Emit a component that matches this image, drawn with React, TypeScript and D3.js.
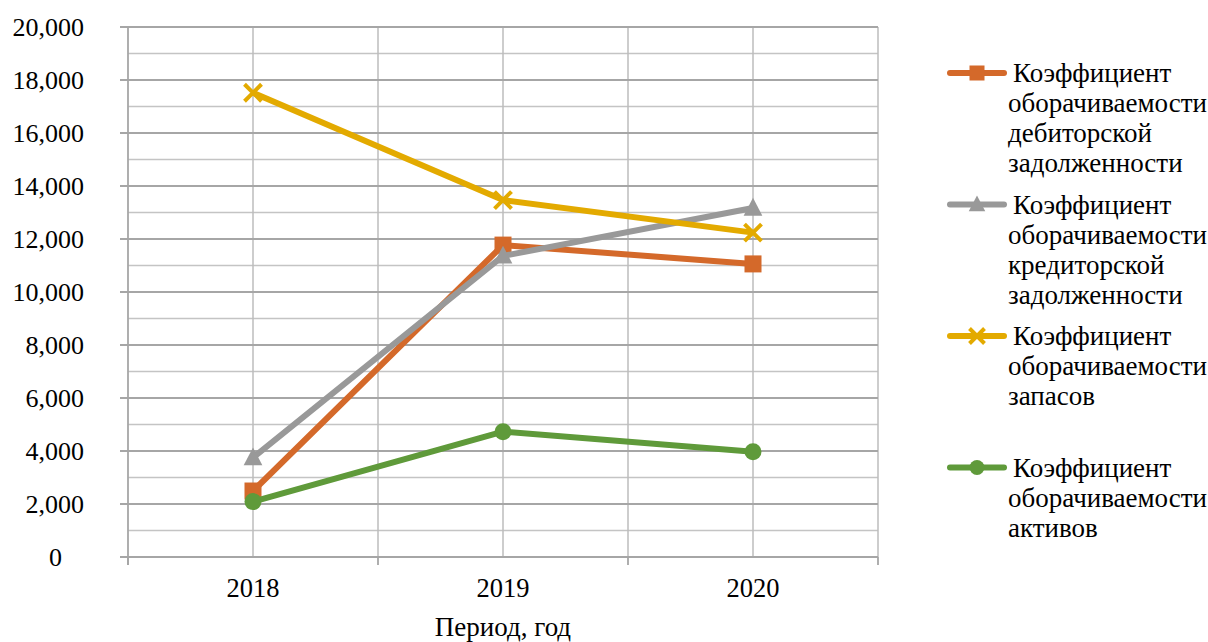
import React from "react";
import * as d3 from "d3";

const years = ["2018", "2019", "2020"];
const seriesNames = [
  ["Коэффициент", "оборачиваемости", "дебиторской", "задолженности"],
  ["Коэффициент", "оборачиваемости", "кредиторской", "задолженности"],
  ["Коэффициент", "оборачиваемости", "запасов"],
  ["Коэффициент", "оборачиваемости", "активов"],
];
const receivables = [2.49, 11.77, 11.06];
const payables = [3.75, 11.36, 13.17];
const inventory = [17.52, 13.47, 12.24];
const assets = [2.09, 4.73, 3.97];
const yTicks = [0, 2, 4, 6, 8, 10, 12, 14, 16, 18, 20];
const yMinor = [1, 3, 5, 7, 9, 11, 13, 15, 17, 19];
const xTitle = "Период, год";

const colors = ["#D4692A", "#999999", "#E3AA00", "#5F9A3A"];
const markers = ["square", "triangle", "x", "circle"];
const allSeries = [receivables, payables, inventory, assets];

const W = 1208, H = 642;
const left = 128, right = 878, top = 27, bottom = 557;
const textStyle = { fontFamily: '"Liberation Serif", "DejaVu Serif", serif' };

function Marker({ type, x, y, s, color }: any) {
  if (type === "square") return <rect x={x - s / 2} y={y - s / 2} width={s} height={s} fill={color} />;
  if (type === "triangle") {
    const h = s;
    return <path d={`M${x},${y - h * 0.6}L${x + s * 0.55},${y + h * 0.45}L${x - s * 0.55},${y + h * 0.45}Z`} fill={color} />;
  }
  if (type === "x") {
    const r = s / 2;
    return <path d={`M${x - r},${y - r}L${x + r},${y + r}M${x - r},${y + r}L${x + r},${y - r}`} stroke={color} strokeWidth={4} />;
  }
  return <circle cx={x} cy={y} r={s / 2} fill={color} />;
}

export default function App() {
  const x = d3.scaleBand().domain(years).range([left, right]);
  const y = d3.scaleLinear().domain([0, 20]).range([bottom, top]);
  const cx = (d: string) => (x(d) as number) + x.bandwidth() / 2;
  const fmt = (v: number) => (v === 0 ? "0" : d3.format(",")(v * 1000));
  const line = d3.line<number>().x((_, i) => cx(years[i])).y((v) => y(v));
  const boundaries = years.map((d) => x(d) as number).concat([right]);

  return (
    <svg width={W} height={H} style={{ position: "absolute", left: 0, top: 0, background: "#fff" }}>
      {yMinor.map((t) => (
        <line key={"m" + t} x1={left} x2={right} y1={y(t)} y2={y(t)} stroke="#c4c4c4" strokeWidth={1.5} />
      ))}
      {years.map((d) => (
        <line key={"vc" + d} x1={cx(d)} x2={cx(d)} y1={top} y2={bottom} stroke="#bdbdbd" strokeWidth={1.5} />
      ))}
      {boundaries.slice(1).map((b, i) => (
        <line key={"vb" + i} x1={b} x2={b} y1={top} y2={bottom} stroke="#bdbdbd" strokeWidth={1.5} />
      ))}
      {yTicks.map((t) => (
        <line key={"M" + t} x1={left - 8} x2={right} y1={y(t)} y2={y(t)} stroke="#a6a6a6" strokeWidth={1.8} />
      ))}
      <line x1={left} x2={left} y1={top} y2={bottom + 8} stroke="#a6a6a6" strokeWidth={1.8} />
      {boundaries.map((b, i) => (
        <line key={"xt" + i} x1={b} x2={b} y1={bottom} y2={bottom + 8} stroke="#a6a6a6" strokeWidth={1.8} />
      ))}
      {yTicks.map((t) => (
        <text key={"yl" + t} x={t === 0 ? 62 : 84} y={y(t) + 9} textAnchor="end" style={textStyle} fontSize={26} fill="#000">
          {fmt(t)}
        </text>
      ))}
      {years.map((d) => (
        <text key={"xl" + d} x={cx(d)} y={597} textAnchor="middle" style={textStyle} fontSize={26.5} fill="#000">
          {d}
        </text>
      ))}
      <text x={(left + right) / 2} y={636} textAnchor="middle" style={textStyle} fontSize={27} fill="#000">
        {xTitle}
      </text>
      {allSeries.map((s, i) => (
        <g key={"s" + i}>
          <path d={line(s) as string} fill="none" stroke={colors[i]} strokeWidth={6} strokeLinejoin="round" />
          {s.map((v, j) => (
            <Marker key={j} type={markers[i]} x={cx(years[j])} y={y(v)} s={17} color={colors[i]} />
          ))}
        </g>
      ))}
      {seriesNames.map((lines, i) => {
        const ly = 73 + i * 131.5;
        return (
          <g key={"lg" + i}>
            <line x1={950} x2={1004} y1={ly} y2={ly} stroke={colors[i]} strokeWidth={6} strokeLinecap="round" />
            <Marker type={markers[i]} x={977} y={ly} s={15} color={colors[i]} />
            {lines.map((t, k) => (
              <text key={k} x={k === 0 ? 1013 : 1008} y={ly + 9 + k * 30} style={textStyle} fontSize={27} fill="#000">
                {t}
              </text>
            ))}
          </g>
        );
      })}
    </svg>
  );
}
